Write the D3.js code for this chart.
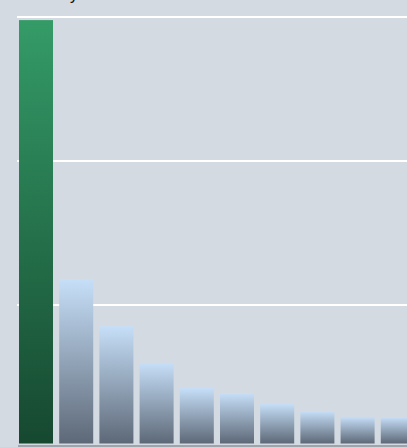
<!DOCTYPE html>
<html>
<head>
<meta charset="utf-8">
<script src="https://cdn.jsdelivr.net/npm/d3@7"></script>
<style>
  html, body { margin: 0; padding: 0; background: #d3dae1; overflow: hidden; }
  svg { display: block; }
</style>
</head>
<body>
<svg id="chart" width="407" height="447"></svg>
<script>
// Category names and their values
const categories = ["A", "B", "C", "D", "E", "F", "G", "H", "I", "J"];
const values = [297.5, 117.5, 85, 59.5, 42, 38.5, 31, 26, 22, 21.8];
const highlighted = ["A"];
const yTicks = [100, 200, 300];
const chartTitle = "Activity";

const width = 407, height = 447;
const margin = { left: 19, top: 16.5 };

const svg = d3.select("#chart");

const x = d3.scaleBand()
  .domain(categories)
  .range([margin.left, margin.left + 395.8])
  .paddingInner(0.154)
  .paddingOuter(0);

const y = d3.scaleLinear()
  .domain([0, 300])
  .range([448.5, margin.top]);

// Vertical gradients, light at the top of each bar, dark at its foot
const defs = svg.append("defs");
function gradient(id, top, bottom) {
  const g = defs.append("linearGradient")
    .attr("id", id)
    .attr("x1", 0).attr("y1", 0).attr("x2", 0).attr("y2", 1);
  g.append("stop").attr("offset", "0%").attr("stop-color", top);
  g.append("stop").attr("offset", "100%").attr("stop-color", bottom);
}
gradient("gradBlue", "#c6dff8", "#5d6877");
gradient("gradGreen", "#349b67", "#164830");

// Horizontal grid lines, snapped to whole pixels for a crisp 2px stroke
svg.append("g")
  .attr("class", "grid")
  .selectAll("line")
  .data(yTicks)
  .join("line")
  .attr("x1", 17)
  .attr("x2", width)
  .attr("y1", d => Math.round(y(d)))
  .attr("y2", d => Math.round(y(d)))
  .attr("stroke", "#ffffff")
  .attr("stroke-width", 2);

// Bars
const gap = 5;
svg.append("g")
  .attr("class", "bars")
  .selectAll("rect")
  .data(categories.map((c, i) => ({ c, v: values[i] })))
  .join("rect")
  .attr("x", d => x(d.c))
  .attr("width", x.bandwidth())
  .attr("y", d => y(d.v))
  .attr("height", d => y(0) - gap - y(d.v))
  .attr("fill", d => highlighted.includes(d.c) ? "url(#gradGreen)" : "url(#gradBlue)");

// Baseline
svg.append("line")
  .attr("x1", 18)
  .attr("x2", width)
  .attr("y1", 446)
  .attr("y2", 446)
  .attr("stroke", "#9fa4aa")
  .attr("stroke-width", 2);

// Title, mostly above the visible area
svg.append("text")
  .attr("x", 19)
  .attr("y", 0)
  .attr("font-family", "DejaVu Sans, sans-serif")
  .attr("font-size", 16)
  .attr("fill", "#111")
  .text(chartTitle);
</script>
</body>
</html>
